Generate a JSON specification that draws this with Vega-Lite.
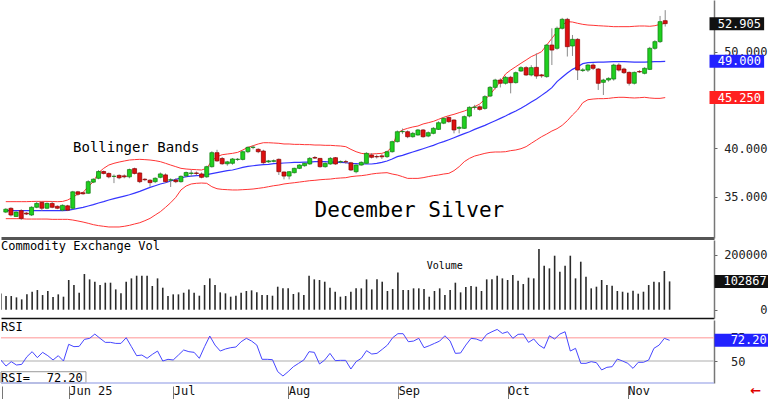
{
  "$schema": "https://vega.github.io/schema/vega-lite/v6.json",
  "padding": 0,
  "background": "white",
  "spacing": 2,
  "bounds": "flush",
  "config": {
    "view": {"stroke": null},
    "axis": {"grid": false, "labelFont": "DejaVu Sans Mono", "labelFontSize": 12, "labelColor": "#222", "tickColor": "#666", "domainColor": "#777", "labelOverlap": false, "labelFlush": false},
    "text": {"font": "DejaVu Sans Mono"}
  },
  "datasets": {
    "silver": [
      {"i":0,"d":"2025-05-13","o":33.4,"h":33.8,"l":33.3,"c":33.7,"up":34.48,"mid":33.55,"lo":32.72,"vol":59000,"rsi":51.1},
      {"i":1,"d":"2025-05-14","o":33.79,"h":33.9,"l":32.95,"c":33.1,"up":34.48,"mid":33.55,"lo":32.72,"vol":49700,"rsi":44.6},
      {"i":2,"d":"2025-05-15","o":32.95,"h":33.5,"l":32.9,"c":33.4,"up":34.48,"mid":33.55,"lo":32.72,"vol":49700,"rsi":49.3},
      {"i":3,"d":"2025-05-16","o":33.55,"h":33.7,"l":32.58,"c":32.75,"up":34.48,"mid":33.55,"lo":32.72,"vol":44800,"rsi":45.7},
      {"i":4,"d":"2025-05-19","o":33.3,"h":33.4,"l":33.1,"c":33.2,"up":34.48,"mid":33.55,"lo":32.68,"vol":37600,"rsi":46.4},
      {"i":5,"d":"2025-05-20","o":33.1,"h":34.0,"l":33.0,"c":33.9,"up":34.5,"mid":33.55,"lo":32.68,"vol":55800,"rsi":54.6},
      {"i":6,"d":"2025-05-21","o":33.9,"h":34.5,"l":33.8,"c":34.3,"up":34.51,"mid":33.55,"lo":32.68,"vol":65400,"rsi":60.0},
      {"i":7,"d":"2025-05-22","o":34.4,"h":34.5,"l":33.55,"c":33.8,"up":34.51,"mid":33.55,"lo":32.68,"vol":71500,"rsi":53.6},
      {"i":8,"d":"2025-05-23","o":33.8,"h":34.4,"l":33.7,"c":34.3,"up":34.51,"mid":33.55,"lo":32.68,"vol":53300,"rsi":59.3},
      {"i":9,"d":"2025-05-27","o":34.3,"h":34.5,"l":33.8,"c":33.9,"up":34.5,"mid":33.55,"lo":32.65,"vol":67900,"rsi":55.7},
      {"i":10,"d":"2025-05-28","o":34.0,"h":34.1,"l":33.7,"c":33.8,"up":34.48,"mid":33.55,"lo":32.65,"vol":46100,"rsi":51.1},
      {"i":11,"d":"2025-05-29","o":33.6,"h":34.2,"l":33.5,"c":34.1,"up":34.5,"mid":33.55,"lo":32.65,"vol":55800,"rsi":55.7},
      {"i":12,"d":"2025-05-30","o":34.05,"h":34.15,"l":33.5,"c":33.6,"up":34.65,"mid":33.58,"lo":32.65,"vol":47300,"rsi":50.0},
      {"i":13,"d":"2025-06-02","o":33.8,"h":35.6,"l":33.7,"c":35.5,"up":34.93,"mid":33.68,"lo":32.58,"vol":107900,"rsi":67.9},
      {"i":14,"d":"2025-06-03","o":35.5,"h":35.6,"l":35.1,"c":35.25,"up":35.27,"mid":33.79,"lo":32.48,"vol":89700,"rsi":65.4},
      {"i":15,"d":"2025-06-04","o":35.4,"h":35.5,"l":35.2,"c":35.3,"up":35.44,"mid":33.89,"lo":32.37,"vol":61800,"rsi":65.7},
      {"i":16,"d":"2025-06-05","o":35.35,"h":36.7,"l":35.3,"c":36.55,"up":36.03,"mid":34.03,"lo":32.24,"vol":129700,"rsi":73.2},
      {"i":17,"d":"2025-06-06","o":36.5,"h":36.9,"l":36.4,"c":36.8,"up":36.55,"mid":34.17,"lo":32.1,"vol":110300,"rsi":74.3},
      {"i":18,"d":"2025-06-09","o":36.9,"h":37.75,"l":36.8,"c":37.6,"up":37.48,"mid":34.34,"lo":32.0,"vol":101800,"rsi":78.9},
      {"i":19,"d":"2025-06-10","o":37.6,"h":37.7,"l":37.3,"c":37.4,"up":37.93,"mid":34.48,"lo":31.93,"vol":89700,"rsi":74.3},
      {"i":20,"d":"2025-06-11","o":37.4,"h":37.5,"l":36.9,"c":37.05,"up":38.27,"mid":34.65,"lo":31.86,"vol":98200,"rsi":70.0},
      {"i":21,"d":"2025-06-12","o":37.1,"h":37.3,"l":36.4,"c":37.1,"up":38.45,"mid":34.79,"lo":31.86,"vol":98200,"rsi":70.0},
      {"i":22,"d":"2025-06-13","o":37.2,"h":37.3,"l":36.8,"c":36.95,"up":38.58,"mid":34.93,"lo":31.86,"vol":73900,"rsi":68.9},
      {"i":23,"d":"2025-06-16","o":37.15,"h":37.3,"l":36.9,"c":37.05,"up":38.69,"mid":35.06,"lo":31.93,"vol":59400,"rsi":68.9},
      {"i":24,"d":"2025-06-17","o":37.05,"h":37.9,"l":36.9,"c":37.8,"up":38.79,"mid":35.2,"lo":32.03,"vol":101800,"rsi":75.0},
      {"i":25,"d":"2025-06-18","o":37.9,"h":38.0,"l":37.3,"c":37.4,"up":38.83,"mid":35.37,"lo":32.17,"vol":113900,"rsi":65.4},
      {"i":26,"d":"2025-06-20","o":37.45,"h":37.5,"l":36.4,"c":36.55,"up":38.86,"mid":35.55,"lo":32.3,"vol":123600,"rsi":55.7},
      {"i":27,"d":"2025-06-23","o":36.8,"h":36.9,"l":36.6,"c":36.75,"up":38.83,"mid":35.75,"lo":32.51,"vol":123600,"rsi":56.4},
      {"i":28,"d":"2025-06-24","o":36.7,"h":36.8,"l":36.03,"c":36.45,"up":38.79,"mid":35.96,"lo":32.75,"vol":123600,"rsi":52.9},
      {"i":29,"d":"2025-06-25","o":36.55,"h":37.0,"l":36.4,"c":36.9,"up":38.72,"mid":36.13,"lo":33.1,"vol":86100,"rsi":57.1},
      {"i":30,"d":"2025-06-26","o":37.0,"h":37.5,"l":36.9,"c":37.35,"up":38.62,"mid":36.31,"lo":33.44,"vol":113900,"rsi":60.7},
      {"i":31,"d":"2025-06-27","o":37.25,"h":37.4,"l":36.45,"c":36.55,"up":38.45,"mid":36.44,"lo":33.89,"vol":80000,"rsi":50.0},
      {"i":32,"d":"2025-06-30","o":36.7,"h":36.9,"l":36.0,"c":36.75,"up":38.27,"mid":36.62,"lo":34.37,"vol":49700,"rsi":51.8},
      {"i":33,"d":"2025-07-01","o":36.72,"h":36.9,"l":36.4,"c":36.55,"up":38.1,"mid":36.79,"lo":34.93,"vol":55800,"rsi":51.1},
      {"i":34,"d":"2025-07-02","o":36.55,"h":37.2,"l":36.45,"c":37.1,"up":37.93,"mid":36.93,"lo":35.69,"vol":55800,"rsi":56.4},
      {"i":35,"d":"2025-07-03","o":37.15,"h":37.6,"l":37.0,"c":37.5,"up":37.86,"mid":37.07,"lo":36.1,"vol":61800,"rsi":61.8},
      {"i":36,"d":"2025-07-07","o":37.4,"h":37.75,"l":37.05,"c":37.45,"up":37.82,"mid":37.13,"lo":36.31,"vol":73900,"rsi":60.0},
      {"i":37,"d":"2025-07-08","o":37.45,"h":37.6,"l":37.2,"c":37.4,"up":37.79,"mid":37.17,"lo":36.38,"vol":61800,"rsi":59.3},
      {"i":38,"d":"2025-07-09","o":37.35,"h":37.5,"l":36.9,"c":37.0,"up":37.76,"mid":37.2,"lo":36.41,"vol":50900,"rsi":52.9},
      {"i":39,"d":"2025-07-10","o":37.05,"h":38.2,"l":36.95,"c":38.1,"up":37.93,"mid":37.27,"lo":36.38,"vol":89700,"rsi":65.4},
      {"i":40,"d":"2025-07-11","o":38.1,"h":39.7,"l":38.0,"c":39.55,"up":38.72,"mid":37.38,"lo":36.03,"vol":113900,"rsi":76.8},
      {"i":41,"d":"2025-07-14","o":39.55,"h":39.85,"l":38.6,"c":38.7,"up":39.14,"mid":37.48,"lo":35.82,"vol":89700,"rsi":67.1},
      {"i":42,"d":"2025-07-15","o":38.95,"h":39.1,"l":38.3,"c":38.4,"up":39.34,"mid":37.58,"lo":35.75,"vol":63000,"rsi":60.7},
      {"i":43,"d":"2025-07-16","o":38.4,"h":38.7,"l":38.2,"c":38.6,"up":39.41,"mid":37.69,"lo":35.72,"vol":59400,"rsi":62.9},
      {"i":44,"d":"2025-07-17","o":38.45,"h":39.0,"l":38.3,"c":38.9,"up":39.48,"mid":37.76,"lo":35.69,"vol":47300,"rsi":64.3},
      {"i":45,"d":"2025-07-18","o":38.85,"h":39.0,"l":38.7,"c":38.87,"up":39.58,"mid":37.89,"lo":35.69,"vol":50900,"rsi":65.0},
      {"i":46,"d":"2025-07-21","o":38.85,"h":39.8,"l":38.75,"c":39.65,"up":39.83,"mid":38.03,"lo":35.72,"vol":61800,"rsi":70.7},
      {"i":47,"d":"2025-07-22","o":39.65,"h":40.2,"l":39.5,"c":40.1,"up":40.1,"mid":38.13,"lo":35.75,"vol":67900,"rsi":74.3},
      {"i":48,"d":"2025-07-23","o":40.1,"h":40.3,"l":39.9,"c":40.12,"up":40.27,"mid":38.2,"lo":35.79,"vol":70300,"rsi":71.4},
      {"i":49,"d":"2025-07-24","o":39.9,"h":40.0,"l":39.5,"c":39.65,"up":40.45,"mid":38.27,"lo":35.86,"vol":63000,"rsi":67.1},
      {"i":50,"d":"2025-07-25","o":39.72,"h":39.85,"l":38.4,"c":38.51,"up":40.58,"mid":38.31,"lo":35.93,"vol":53300,"rsi":51.8},
      {"i":51,"d":"2025-07-28","o":38.6,"h":38.8,"l":38.5,"c":38.7,"up":40.58,"mid":38.34,"lo":36.03,"vol":53300,"rsi":51.8},
      {"i":52,"d":"2025-07-29","o":38.65,"h":38.85,"l":38.55,"c":38.72,"up":40.55,"mid":38.41,"lo":36.13,"vol":50900,"rsi":51.4},
      {"i":53,"d":"2025-07-30","o":38.86,"h":38.95,"l":37.24,"c":37.58,"up":40.52,"mid":38.45,"lo":36.2,"vol":83600,"rsi":38.6},
      {"i":54,"d":"2025-07-31","o":37.55,"h":37.6,"l":36.79,"c":37.13,"up":40.45,"mid":38.48,"lo":36.31,"vol":77600,"rsi":33.9},
      {"i":55,"d":"2025-08-01","o":37.13,"h":37.65,"l":36.79,"c":37.58,"up":40.45,"mid":38.51,"lo":36.38,"vol":77600,"rsi":38.6},
      {"i":56,"d":"2025-08-04","o":37.48,"h":38.0,"l":37.4,"c":37.93,"up":40.41,"mid":38.55,"lo":36.44,"vol":57000,"rsi":43.9},
      {"i":57,"d":"2025-08-05","o":37.93,"h":38.35,"l":37.85,"c":38.27,"up":40.41,"mid":38.55,"lo":36.51,"vol":63000,"rsi":47.5},
      {"i":58,"d":"2025-08-06","o":38.2,"h":38.5,"l":38.1,"c":38.45,"up":40.38,"mid":38.58,"lo":36.58,"vol":53300,"rsi":51.1},
      {"i":59,"d":"2025-08-07","o":38.38,"h":39.1,"l":38.3,"c":38.96,"up":40.38,"mid":38.58,"lo":36.65,"vol":123600,"rsi":60.0},
      {"i":60,"d":"2025-08-08","o":39.05,"h":39.2,"l":38.9,"c":38.99,"up":40.34,"mid":38.62,"lo":36.69,"vol":110300,"rsi":59.3},
      {"i":61,"d":"2025-08-11","o":38.96,"h":39.0,"l":38.0,"c":38.1,"up":40.34,"mid":38.62,"lo":36.75,"vol":107900,"rsi":46.8},
      {"i":62,"d":"2025-08-12","o":38.1,"h":38.55,"l":38.0,"c":38.45,"up":40.31,"mid":38.62,"lo":36.79,"vol":101800,"rsi":51.1},
      {"i":63,"d":"2025-08-13","o":38.38,"h":39.1,"l":38.3,"c":38.96,"up":40.31,"mid":38.58,"lo":36.82,"vol":80000,"rsi":58.2},
      {"i":64,"d":"2025-08-14","o":39.03,"h":39.1,"l":38.3,"c":38.38,"up":40.27,"mid":38.58,"lo":36.89,"vol":65400,"rsi":50.4},
      {"i":65,"d":"2025-08-15","o":38.6,"h":38.75,"l":38.45,"c":38.62,"up":40.24,"mid":38.55,"lo":36.93,"vol":47300,"rsi":50.7},
      {"i":66,"d":"2025-08-18","o":38.62,"h":38.8,"l":38.4,"c":38.6,"up":40.17,"mid":38.51,"lo":36.96,"vol":49700,"rsi":50.7},
      {"i":67,"d":"2025-08-19","o":38.5,"h":38.6,"l":37.65,"c":37.76,"up":39.89,"mid":38.45,"lo":37.07,"vol":65400,"rsi":41.4},
      {"i":68,"d":"2025-08-20","o":37.58,"h":38.35,"l":37.41,"c":38.27,"up":39.65,"mid":38.41,"lo":37.13,"vol":77600,"rsi":49.3},
      {"i":69,"d":"2025-08-21","o":38.27,"h":38.65,"l":38.2,"c":38.55,"up":39.48,"mid":38.38,"lo":37.17,"vol":77600,"rsi":52.9},
      {"i":70,"d":"2025-08-22","o":38.45,"h":39.6,"l":38.4,"c":39.48,"up":39.41,"mid":38.38,"lo":37.24,"vol":110300,"rsi":61.1},
      {"i":71,"d":"2025-08-25","o":39.31,"h":39.5,"l":38.95,"c":39.07,"up":39.41,"mid":38.38,"lo":37.34,"vol":73900,"rsi":57.5},
      {"i":72,"d":"2025-08-26","o":39.15,"h":39.35,"l":38.95,"c":39.12,"up":39.45,"mid":38.45,"lo":37.41,"vol":110300,"rsi":58.2},
      {"i":73,"d":"2025-08-27","o":39.22,"h":39.4,"l":38.9,"c":39.12,"up":39.48,"mid":38.55,"lo":37.45,"vol":101800,"rsi":62.5},
      {"i":74,"d":"2025-08-28","o":39.14,"h":39.75,"l":39.0,"c":39.65,"up":39.65,"mid":38.69,"lo":37.48,"vol":67900,"rsi":67.1},
      {"i":75,"d":"2025-08-29","o":39.65,"h":40.8,"l":39.55,"c":40.69,"up":40.17,"mid":38.89,"lo":37.34,"vol":75100,"rsi":75.0},
      {"i":76,"d":"2025-09-02","o":40.69,"h":41.85,"l":40.6,"c":41.72,"up":41.55,"mid":39.14,"lo":37.24,"vol":135700,"rsi":79.3},
      {"i":77,"d":"2025-09-03","o":41.72,"h":42.05,"l":41.5,"c":41.75,"up":41.9,"mid":39.27,"lo":37.07,"vol":71500,"rsi":79.3},
      {"i":78,"d":"2025-09-04","o":41.72,"h":41.85,"l":41.05,"c":41.2,"up":42.07,"mid":39.45,"lo":36.89,"vol":71500,"rsi":70.7},
      {"i":79,"d":"2025-09-05","o":41.2,"h":41.7,"l":41.1,"c":41.55,"up":42.21,"mid":39.62,"lo":36.89,"vol":77600,"rsi":71.4},
      {"i":80,"d":"2025-09-08","o":41.38,"h":42.0,"l":41.3,"c":41.9,"up":42.31,"mid":39.79,"lo":36.89,"vol":77600,"rsi":74.3},
      {"i":81,"d":"2025-09-09","o":41.9,"h":42.0,"l":41.1,"c":41.2,"up":42.52,"mid":39.96,"lo":36.96,"vol":75100,"rsi":64.3},
      {"i":82,"d":"2025-09-10","o":41.27,"h":41.75,"l":41.15,"c":41.62,"up":42.65,"mid":40.14,"lo":37.07,"vol":47300,"rsi":66.4},
      {"i":83,"d":"2025-09-11","o":41.55,"h":42.2,"l":41.45,"c":42.07,"up":42.79,"mid":40.31,"lo":37.17,"vol":67900,"rsi":68.9},
      {"i":84,"d":"2025-09-12","o":41.96,"h":42.8,"l":41.9,"c":42.65,"up":43.0,"mid":40.52,"lo":37.24,"vol":77600,"rsi":71.4},
      {"i":85,"d":"2025-09-15","o":42.6,"h":43.2,"l":42.5,"c":43.1,"up":43.21,"mid":40.69,"lo":37.34,"vol":53300,"rsi":77.1},
      {"i":86,"d":"2025-09-16","o":43.2,"h":43.3,"l":42.65,"c":42.76,"up":43.38,"mid":40.89,"lo":37.41,"vol":71500,"rsi":71.4},
      {"i":87,"d":"2025-09-17","o":42.93,"h":43.0,"l":41.55,"c":41.9,"up":43.52,"mid":41.1,"lo":37.69,"vol":98200,"rsi":58.2},
      {"i":88,"d":"2025-09-18","o":42.07,"h":42.3,"l":41.55,"c":42.17,"up":43.69,"mid":41.31,"lo":38.1,"vol":63000,"rsi":58.6},
      {"i":89,"d":"2025-09-19","o":42.07,"h":43.4,"l":42.0,"c":43.28,"up":43.86,"mid":41.52,"lo":38.62,"vol":82400,"rsi":67.1},
      {"i":90,"d":"2025-09-22","o":43.34,"h":44.35,"l":43.2,"c":44.24,"up":44.07,"mid":41.72,"lo":38.96,"vol":86100,"rsi":74.3},
      {"i":91,"d":"2025-09-23","o":44.24,"h":44.5,"l":44.0,"c":44.27,"up":44.31,"mid":41.96,"lo":39.2,"vol":83600,"rsi":73.6},
      {"i":92,"d":"2025-09-24","o":44.3,"h":44.45,"l":43.9,"c":44.03,"up":44.59,"mid":42.17,"lo":39.34,"vol":67900,"rsi":71.4},
      {"i":93,"d":"2025-09-25","o":44.13,"h":45.5,"l":44.0,"c":45.35,"up":45.07,"mid":42.38,"lo":39.48,"vol":110300,"rsi":78.6},
      {"i":94,"d":"2025-09-26","o":45.41,"h":46.45,"l":45.3,"c":46.31,"up":45.55,"mid":42.62,"lo":39.58,"vol":110300,"rsi":81.4},
      {"i":95,"d":"2025-09-29","o":46.31,"h":47.2,"l":46.1,"c":47.07,"up":46.24,"mid":42.86,"lo":39.62,"vol":123600,"rsi":83.9},
      {"i":96,"d":"2025-09-30","o":47.07,"h":47.25,"l":46.3,"c":46.73,"up":46.9,"mid":43.1,"lo":39.62,"vol":113900,"rsi":79.6},
      {"i":97,"d":"2025-10-01","o":46.73,"h":47.5,"l":46.6,"c":47.35,"up":47.69,"mid":43.34,"lo":39.65,"vol":107900,"rsi":81.4},
      {"i":98,"d":"2025-10-02","o":47.35,"h":47.5,"l":45.69,"c":46.79,"up":48.1,"mid":43.62,"lo":39.76,"vol":126000,"rsi":74.3},
      {"i":99,"d":"2025-10-03","o":46.8,"h":47.95,"l":46.7,"c":47.83,"up":48.45,"mid":43.86,"lo":39.83,"vol":105400,"rsi":78.6},
      {"i":100,"d":"2025-10-06","o":48.0,"h":48.5,"l":47.9,"c":48.35,"up":48.8,"mid":44.14,"lo":39.96,"vol":93300,"rsi":78.9},
      {"i":101,"d":"2025-10-07","o":48.35,"h":48.5,"l":47.5,"c":47.59,"up":49.14,"mid":44.45,"lo":40.17,"vol":116400,"rsi":70.0},
      {"i":102,"d":"2025-10-08","o":47.59,"h":48.6,"l":47.45,"c":48.35,"up":49.49,"mid":44.79,"lo":40.52,"vol":113900,"rsi":73.6},
      {"i":103,"d":"2025-10-09","o":48.38,"h":49.83,"l":47.2,"c":47.48,"up":49.73,"mid":45.1,"lo":40.86,"vol":220600,"rsi":67.1},
      {"i":104,"d":"2025-10-10","o":47.6,"h":47.7,"l":47.3,"c":47.5,"up":50.0,"mid":45.48,"lo":41.2,"vol":160000,"rsi":63.6},
      {"i":105,"d":"2025-10-13","o":47.42,"h":50.8,"l":47.3,"c":50.69,"up":50.69,"mid":45.86,"lo":41.48,"vol":150300,"rsi":77.1},
      {"i":106,"d":"2025-10-14","o":50.69,"h":52.42,"l":48.62,"c":50.17,"up":51.38,"mid":46.28,"lo":41.79,"vol":196300,"rsi":73.6},
      {"i":107,"d":"2025-10-15","o":50.35,"h":52.6,"l":50.2,"c":52.42,"up":52.07,"mid":46.9,"lo":42.03,"vol":138200,"rsi":78.9},
      {"i":108,"d":"2025-10-16","o":52.42,"h":53.5,"l":52.3,"c":53.35,"up":52.76,"mid":47.35,"lo":42.38,"vol":160000,"rsi":81.4},
      {"i":109,"d":"2025-10-17","o":53.35,"h":53.5,"l":49.5,"c":50.52,"up":53.11,"mid":47.79,"lo":42.86,"vol":196300,"rsi":60.7},
      {"i":110,"d":"2025-10-20","o":50.59,"h":51.73,"l":49.56,"c":51.28,"up":53.07,"mid":48.17,"lo":43.45,"vol":113900,"rsi":63.6},
      {"i":111,"d":"2025-10-21","o":51.28,"h":51.4,"l":47.07,"c":48.1,"up":52.94,"mid":48.45,"lo":43.97,"vol":174500,"rsi":47.5},
      {"i":112,"d":"2025-10-22","o":48.05,"h":48.3,"l":47.9,"c":48.12,"up":52.83,"mid":48.76,"lo":44.72,"vol":120000,"rsi":47.5},
      {"i":113,"d":"2025-10-23","o":48.1,"h":48.7,"l":47.9,"c":48.62,"up":52.76,"mid":48.86,"lo":45.03,"vol":77600,"rsi":49.3},
      {"i":114,"d":"2025-10-24","o":48.62,"h":48.8,"l":48.1,"c":48.28,"up":52.73,"mid":48.9,"lo":45.1,"vol":83600,"rsi":48.2},
      {"i":115,"d":"2025-10-27","o":48.21,"h":48.3,"l":46.04,"c":46.73,"up":52.69,"mid":48.93,"lo":45.14,"vol":107900,"rsi":40.4},
      {"i":116,"d":"2025-10-28","o":46.83,"h":47.2,"l":45.52,"c":47.07,"up":52.66,"mid":48.93,"lo":45.14,"vol":89700,"rsi":43.2},
      {"i":117,"d":"2025-10-29","o":47.07,"h":47.35,"l":46.9,"c":47.24,"up":52.63,"mid":48.95,"lo":45.17,"vol":87300,"rsi":43.9},
      {"i":118,"d":"2025-10-30","o":47.17,"h":48.75,"l":47.0,"c":48.62,"up":52.59,"mid":48.97,"lo":45.24,"vol":67900,"rsi":52.1},
      {"i":119,"d":"2025-10-31","o":48.62,"h":48.8,"l":47.95,"c":48.1,"up":52.59,"mid":48.97,"lo":45.28,"vol":65400,"rsi":50.0},
      {"i":120,"d":"2025-11-03","o":48.21,"h":48.35,"l":47.7,"c":47.83,"up":52.59,"mid":48.97,"lo":45.28,"vol":61800,"rsi":47.5},
      {"i":121,"d":"2025-11-04","o":47.86,"h":47.95,"l":46.5,"c":46.73,"up":52.59,"mid":48.95,"lo":45.24,"vol":69100,"rsi":42.1},
      {"i":122,"d":"2025-11-05","o":46.73,"h":47.95,"l":46.6,"c":47.86,"up":52.63,"mid":48.93,"lo":45.21,"vol":58200,"rsi":48.6},
      {"i":123,"d":"2025-11-06","o":47.95,"h":48.1,"l":47.8,"c":47.9,"up":52.66,"mid":48.93,"lo":45.24,"vol":65400,"rsi":48.6},
      {"i":124,"d":"2025-11-07","o":47.76,"h":48.4,"l":47.65,"c":48.28,"up":52.66,"mid":48.93,"lo":45.28,"vol":89700,"rsi":51.1},
      {"i":125,"d":"2025-11-10","o":48.17,"h":50.5,"l":48.1,"c":50.35,"up":52.63,"mid":48.95,"lo":45.21,"vol":101800,"rsi":63.6},
      {"i":126,"d":"2025-11-11","o":50.35,"h":51.2,"l":50.2,"c":51.04,"up":52.69,"mid":48.97,"lo":45.17,"vol":99400,"rsi":67.1},
      {"i":127,"d":"2025-11-12","o":51.04,"h":53.7,"l":50.9,"c":53.11,"up":52.83,"mid":48.98,"lo":45.17,"vol":140600,"rsi":74.3},
      {"i":128,"d":"2025-11-13","o":53.21,"h":54.3,"l":52.6,"c":52.905,"up":52.94,"mid":49.0,"lo":45.25,"vol":102867,"rsi":72.2}
    ]
  },
  "vconcat": [
    {
      "width": 713,
      "height": 238,
      "data": {"name": "silver"},
      "layer": [
        {
          "mark": {"type": "line", "color": "#ff3535", "strokeWidth": 1, "clip": true},
          "encoding": {
            "x": {"field": "i", "type": "quantitative", "scale": {"domain": [0.04, 136.5], "nice": false, "zero": false},
                  "axis": {"orient": "bottom", "labels": false, "ticks": false, "title": null, "domainColor": "#555", "domainWidth": 3}},
            "y": {"field": "up", "type": "quantitative", "scale": {"domain": [30.72, 55.35], "nice": false, "zero": false},
                  "axis": {"orient": "right", "title": null, "values": [35, 40, 50], "format": ".3f",
                           "labelOverlap": false, "tickSize": 3, "labelAlign": "right", "labelPadding": 50, "domainWidth": 1.5, "labelBaseline": "middle"}}
          }
        },
        {
          "mark": {"type": "line", "color": "#ff3535", "strokeWidth": 1, "clip": true},
          "encoding": {"x": {"field": "i", "type": "quantitative"}, "y": {"field": "lo", "type": "quantitative"}}
        },
        {
          "mark": {"type": "line", "color": "#3535ff", "strokeWidth": 1.2, "clip": true},
          "encoding": {"x": {"field": "i", "type": "quantitative"}, "y": {"field": "mid", "type": "quantitative"}}
        },
        {
          "mark": {"type": "rule", "color": "#8a8a8a", "strokeWidth": 1, "clip": true},
          "encoding": {"x": {"field": "i", "type": "quantitative"}, "y": {"field": "l", "type": "quantitative"}, "y2": {"field": "h"}}
        },
        {
          "mark": {"type": "bar", "width": 4, "strokeWidth": 0.7, "clip": true},
          "encoding": {
            "x": {"field": "i", "type": "quantitative"},
            "y": {"field": "o", "type": "quantitative"},
            "y2": {"field": "c"},
            "fill": {"condition": {"test": "datum.c >= datum.o", "value": "#1fd01f"}, "value": "#dd1010"},
            "stroke": {"condition": {"test": "datum.c >= datum.o", "value": "#0b7a0b"}, "value": "#8a0000"}
          }
        },
        {
          "data": {"values": [{"t": "Bollinger Bands"}]},
          "mark": {"type": "text", "align": "left", "baseline": "middle", "fontSize": 14, "color": "#000"},
          "encoding": {"x": {"datum": 13.05, "type": "quantitative"}, "y": {"datum": 40.03, "type": "quantitative"}, "text": {"field": "t"}}
        },
        {
          "data": {"values": [{"t": "December Silver"}]},
          "mark": {"type": "text", "align": "left", "baseline": "middle", "fontSize": 21, "color": "#000"},
          "encoding": {"x": {"datum": 59.94, "type": "quantitative"}, "y": {"datum": 33.51, "type": "quantitative"}, "text": {"field": "t"}}
        },
        {
          "data": {"values": [{"v": 52.905}]},
          "mark": {"type": "rule", "color": "#111", "strokeWidth": 13, "strokeCap": "butt"},
          "encoding": {"x": {"datum": 136.6, "type": "quantitative"}, "x2": {"datum": 147.2}, "y": {"field": "v", "type": "quantitative"}}
        },
        {
          "data": {"values": [{"v": 52.905}]},
          "mark": {"type": "text", "align": "right", "baseline": "middle", "fontSize": 12, "color": "white"},
          "encoding": {"x": {"datum": 146.6, "type": "quantitative"}, "y": {"field": "v", "type": "quantitative"}, "text": {"field": "v", "format": ".3f"}}
        },
        {
          "data": {"values": [{"v": 49.0}]},
          "mark": {"type": "rule", "color": "#2222ff", "strokeWidth": 13, "strokeCap": "butt"},
          "encoding": {"x": {"datum": 136.6, "type": "quantitative"}, "x2": {"datum": 147.2}, "y": {"field": "v", "type": "quantitative"}}
        },
        {
          "data": {"values": [{"v": 49.0}]},
          "mark": {"type": "text", "align": "right", "baseline": "middle", "fontSize": 12, "color": "white"},
          "encoding": {"x": {"datum": 146.6, "type": "quantitative"}, "y": {"field": "v", "type": "quantitative"}, "text": {"field": "v", "format": ".3f"}}
        },
        {
          "data": {"values": [{"v": 45.25}]},
          "mark": {"type": "rule", "color": "#ff2020", "strokeWidth": 13, "strokeCap": "butt"},
          "encoding": {"x": {"datum": 136.6, "type": "quantitative"}, "x2": {"datum": 147.2}, "y": {"field": "v", "type": "quantitative"}}
        },
        {
          "data": {"values": [{"v": 45.25}]},
          "mark": {"type": "text", "align": "right", "baseline": "middle", "fontSize": 12, "color": "white"},
          "encoding": {"x": {"datum": 146.6, "type": "quantitative"}, "y": {"field": "v", "type": "quantitative"}, "text": {"field": "v", "format": ".3f"}}
        }
      ]
    },
    {
      "width": 713,
      "height": 78,
      "data": {"name": "silver"},
      "layer": [
        {
          "mark": {"type": "rule", "color": "#2a2a2a", "strokeWidth": 1.6, "clip": true},
          "encoding": {
            "x": {"field": "i", "type": "quantitative", "scale": {"domain": [0.04, 136.5], "nice": false, "zero": false},
                  "axis": {"orient": "bottom", "labels": false, "ticks": false, "title": null, "domainColor": "#111", "domainWidth": 1.5}},
            "y": {"field": "vol", "type": "quantitative", "scale": {"domain": [-30180, 253450], "nice": false, "zero": false},
                  "axis": {"orient": "right", "title": null, "values": [0, 50000, 150000, 200000], "format": "d",
                           "labelOverlap": false, "tickSize": 3, "labelAlign": "right", "labelPadding": 50, "domainWidth": 1.5, "labelBaseline": "middle"}},
            "y2": {"datum": 0}
          }
        },
        {
          "data": {"values": [{"t": "Commodity Exchange Vol"}]},
          "mark": {"type": "text", "align": "left", "baseline": "middle", "fontSize": 12, "color": "#000"},
          "encoding": {"x": {"datum": 0.04, "type": "quantitative"}, "y": {"datum": 231600, "type": "quantitative"}, "text": {"field": "t"}}
        },
        {
          "data": {"values": [{"t": "Volume"}]},
          "mark": {"type": "text", "align": "left", "baseline": "middle", "fontSize": 10, "color": "#000"},
          "encoding": {"x": {"datum": 81.5, "type": "quantitative"}, "y": {"datum": 160000, "type": "quantitative"}, "text": {"field": "t"}}
        },
        {
          "data": {"values": [{"v": 102867}]},
          "mark": {"type": "rule", "color": "#111", "strokeWidth": 13, "strokeCap": "butt"},
          "encoding": {"x": {"datum": 136.6, "type": "quantitative"}, "x2": {"datum": 147.2}, "y": {"field": "v", "type": "quantitative"}}
        },
        {
          "data": {"values": [{"v": 102867}]},
          "mark": {"type": "text", "align": "right", "baseline": "middle", "fontSize": 12, "color": "white"},
          "encoding": {"x": {"datum": 146.6, "type": "quantitative"}, "y": {"field": "v", "type": "quantitative"}, "text": {"field": "v", "format": "d"}}
        }
      ]
    },
    {
      "width": 713,
      "height": 63,
      "data": {"name": "silver"},
      "layer": [
        {
          "data": {"values": [{"v": 75}]},
          "mark": {"type": "rule", "color": "#ffb8b8", "strokeWidth": 1.5},
          "encoding": {"y": {"field": "v", "type": "quantitative", "scale": {"domain": [26.4, 94.0], "nice": false, "zero": false},
                  "axis": {"orient": "right", "title": null, "values": [50, 75], "format": "d",
                           "labelOverlap": false, "tickSize": 3, "labelAlign": "right", "labelPadding": 28, "domainWidth": 1.5, "labelBaseline": "middle"}}}
        },
        {
          "data": {"values": [{"v": 50}]},
          "mark": {"type": "rule", "color": "#c8c8c8", "strokeWidth": 1.5},
          "encoding": {"y": {"field": "v", "type": "quantitative"}}
        },
        {
          "mark": {"type": "line", "color": "#4646ff", "strokeWidth": 1, "clip": true},
          "encoding": {
            "x": {"field": "i", "type": "quantitative", "scale": {"domain": [0.04, 136.5], "nice": false, "zero": false},
                  "axis": {"orient": "bottom", "title": null, "values": [0.3, 13, 33, 55, 76, 97, 120],
                           "labelExpr": "datum.value==13?'Jun 25':datum.value==33?'Jul':datum.value==55?'Aug':datum.value==76?'Sep':datum.value==97?'Oct':datum.value==120?'Nov':''",
                           "labelOverlap": false, "domain": false, "offset": 3, "tickSize": 13, "tickColor": "#777", "tickWidth": 1,
                           "labelAlign": "left", "labelBaseline": "top", "labelPadding": -13.5, "labelDx": 2, "labelColor": "#111"}},
            "y": {"field": "rsi", "type": "quantitative"}
          }
        },
        {
          "data": {"values": [{"t": "RSI"}]},
          "mark": {"type": "text", "align": "left", "baseline": "middle", "fontSize": 12, "color": "#000"},
          "encoding": {"x": {"datum": 0.04, "type": "quantitative"}, "y": {"datum": 86.5, "type": "quantitative"}, "text": {"field": "t"}}
        },
        {
          "data": {"values": [{"t": "box"}]},
          "mark": {"type": "rect", "fill": "white", "stroke": "#999", "strokeWidth": 1},
          "encoding": {"x": {"datum": 0.04, "type": "quantitative"}, "x2": {"datum": 16.3}, "y": {"datum": 38.5, "type": "quantitative"}, "y2": {"datum": 26.4}}
        },
        {
          "data": {"values": [{"t": "RSI="}]},
          "mark": {"type": "text", "align": "left", "baseline": "middle", "fontSize": 12, "color": "#000"},
          "encoding": {"x": {"datum": 0.04, "type": "quantitative"}, "y": {"datum": 31.8, "type": "quantitative"}, "text": {"field": "t"}}
        },
        {
          "data": {"values": [{"v": 72.2}]},
          "mark": {"type": "text", "align": "right", "baseline": "middle", "fontSize": 12, "color": "#000"},
          "encoding": {"x": {"datum": 15.7, "type": "quantitative"}, "y": {"datum": 31.8, "type": "quantitative"}, "text": {"field": "v", "format": ".2f"}}
        },
        {
          "data": {"values": [{"v": 26.4}]},
          "mark": {"type": "rule", "color": "#b0b8ec", "strokeWidth": 1.5},
          "encoding": {"y": {"field": "v", "type": "quantitative"}}
        },
        {
          "data": {"values": [{"v": 72.2}]},
          "mark": {"type": "rule", "color": "#2222ff", "strokeWidth": 13, "strokeCap": "butt"},
          "encoding": {"x": {"datum": 136.6, "type": "quantitative"}, "x2": {"datum": 147.2}, "y": {"field": "v", "type": "quantitative"}}
        },
        {
          "data": {"values": [{"v": 72.2}]},
          "mark": {"type": "text", "align": "right", "baseline": "middle", "fontSize": 12, "color": "white"},
          "encoding": {"x": {"datum": 146.6, "type": "quantitative"}, "y": {"field": "v", "type": "quantitative"}, "text": {"field": "v", "format": ".2f"}}
        },
        {
          "data": {"values": [{"t": "←"}]},
          "mark": {"type": "text", "align": "center", "baseline": "middle", "fontSize": 13, "fontWeight": "bold", "font": "DejaVu Sans", "color": "#e00000"},
          "encoding": {"x": {"datum": 144.5, "type": "quantitative"}, "y": {"datum": 17.8, "type": "quantitative"}, "text": {"field": "t"}}
        }
      ]
    }
  ]
}
